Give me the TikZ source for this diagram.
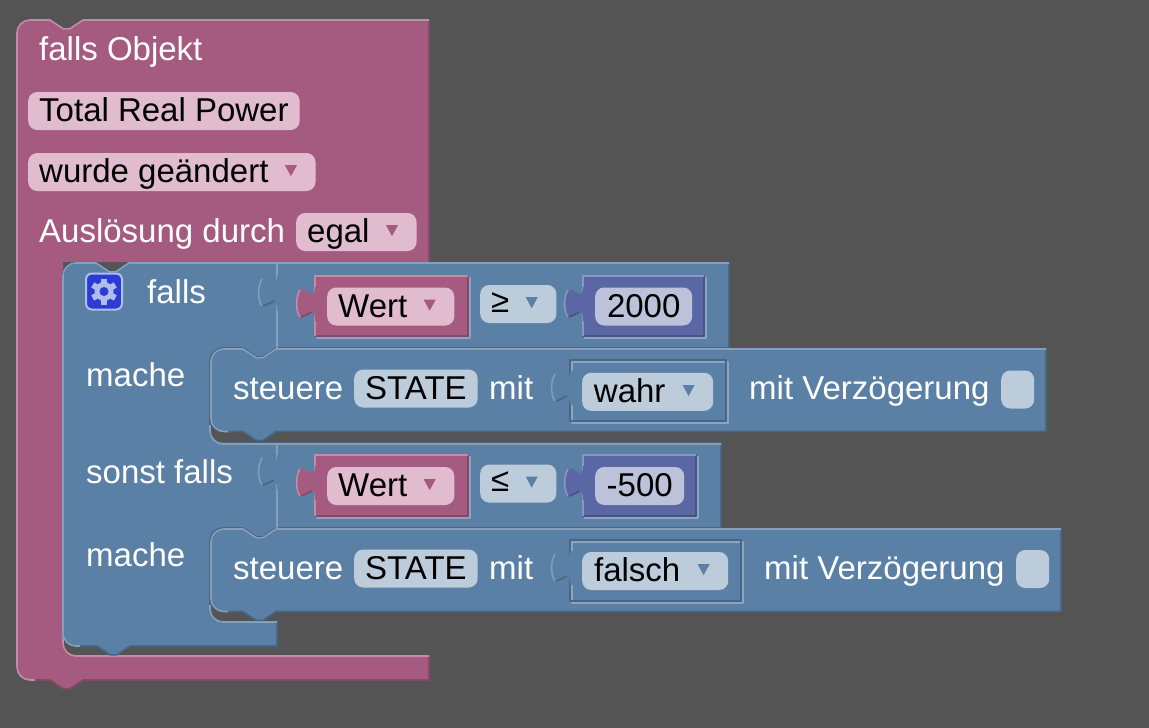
\documentclass[tikz,border=0pt]{standalone}
\usepackage{fontspec}
\setmainfont{Liberation Sans}
\definecolor{bgcol}{HTML}{545454}
\definecolor{pkfill}{HTML}{A55B80}
\definecolor{pklight}{HTML}{C08CA6}
\definecolor{pkdark}{HTML}{844966}
\definecolor{pkfld}{HTML}{E0BCCE}
\definecolor{blfill}{HTML}{5B80A5}
\definecolor{bllight}{HTML}{8CA6C0}
\definecolor{bldark}{HTML}{496684}
\definecolor{blfld}{HTML}{BDCCDB}
\definecolor{pufill}{HTML}{5B67A5}
\definecolor{pulight}{HTML}{8C95C0}
\definecolor{pudark}{HTML}{495284}
\definecolor{pufld}{HTML}{BDC2DB}
\definecolor{gearbg}{HTML}{2A3BD6}
\definecolor{gearfg}{HTML}{AFBDEB}
\newcommand{\notchR}{-- ++(13.2,8.8) -- ++(6.6,0) -- ++(13.2,-8.8)}
\newcommand{\notchL}{-- ++(-13.2,8.8) -- ++(-6.6,0) -- ++(-13.2,-8.8)}
\newcommand{\ddtri}[2]{\fill[#2] ([xshift=-30.8pt,yshift=6.8pt]#1.east) -- ++(12,0) -- ++(-6,11) -- cycle;}
\newcommand{\inset}[4]{\draw[edge,bllight] (#1+2,#2+2) rectangle (#3+2,#4+2);
\draw[edge,bldark] (#1,#2) rectangle (#3,#4);}
\newcommand{\valblock}[5]{\inset{#1}{#2}{#3}{#4}
\fill[#5fill] (#1,#2) rectangle (#3,#4);
\draw[edge,#5dark] (#1,#4) -- (#3,#4) -- (#3,#2);
\draw[edge,#5light] (#1,#4) -- (#1,#2) -- (#3,#2);}
\begin{document}
\begin{tikzpicture}
[x=1pt,y=-1pt
,edge/.style={line width=1.6pt,line join=round}
,blblock/.style={fill=blfill,draw=bldark,edge}
,pkhi/.style={edge,pklight}
,blhi/.style={edge,bllight!85!blfill}
,fld/.style={rounded corners=9pt,inner xsep=11pt,inner ysep=0pt,text height=29.5pt,text depth=8.5pt,anchor=west,text=black,font=\fontsize{33}{38}\selectfont}
,ddfld/.style={fld,execute at end node={\hspace{36pt}}}
,lbl/.style={anchor=base west,inner sep=0pt,text=white,font=\fontsize{33}{38}\selectfont}
,pics/tab/.style n args={3}{code={
\fill[#1] (0,0) .. controls (0,22.5) and (-18,-18) .. (-18,17) .. controls (-18,52) and (0,5.6) .. (0,34) -- (3,34) -- (3,0) -- cycle;
\draw[edge,#2] (-15,3) .. controls (-19.5,10) and (-19.5,24) .. (-15,30);
\draw[edge,#3] (-14,30) -- (-9,28) -- (-3,25);
}}]
\path[use as bounding box,fill=bgcol] (0,0) rectangle (1149,728);
\fill[pkfill] (17,40) [rounded corners=13pt] -- (17,20) [sharp corners] -- (50,20) \notchR -- (429,20) -- (429,262) -- (63,262) [rounded corners=13pt] -- (63,656) [sharp corners] -- (429,656) -- (429,680) -- (83,680) \notchL [rounded corners=13pt] -- (17,680) -- cycle;
\draw[edge,pkdark] (429,20) -- (429,262) (429,656) -- (429,680) -- (83,680) \notchL -- (35,680);
\draw[pkhi] (35,680) [rounded corners=13pt] -- (17,680) -- (17,20) [sharp corners] -- (50,20) \notchR -- (429,20);
\draw[pkhi] (63,635) [rounded corners=13pt] -- (63,656) [sharp corners] -- (429,656);
\path[blblock] (63,285) [rounded corners=13pt] -- (63,263) [sharp corners] -- (96,263) \notchR -- (729,263) -- (729,348) -- (276,348) \notchL [rounded corners=13pt] -- (210,348) -- (210,443) [sharp corners] -- (721,443) -- (721,528) -- (276,528) \notchL [rounded corners=13pt] -- (210,528) -- (210,622) [sharp corners] -- (277,622) -- (277,646) -- (130,646) \notchL [rounded corners=13pt] -- (63,646) -- cycle;
\draw[blhi] (80,646) [rounded corners=13pt] -- (63,646) -- (63,263) [sharp corners] -- (96,263) \notchR -- (729,263);
\draw[blhi] (210,425) [rounded corners=13pt] -- (210,444) [sharp corners] -- (721,444);
\draw[blhi] (210,605) [rounded corners=13pt] -- (210,622) [sharp corners] -- (277,622);
\draw[blhi] (277,263) -- (277,281) (277,305) -- (277,348);
\draw[blhi] (277,444) -- (277,460) (277,484) -- (277,528);
\pic at (277,276) {tab={blfill}{bllight!75!blfill}{bldark}};
\pic at (277,455) {tab={blfill}{bllight!75!blfill}{bldark}};
\path[blblock] (211,370) [rounded corners=13pt] -- (211,349) [sharp corners] -- (243,349) \notchR -- (1046,349) -- (1046,431.5) -- (276,431.5) \notchL [rounded corners=13pt] -- (211,431.5) -- cycle;
\draw[blhi] (228,431.5) [rounded corners=13pt] -- (211,431.5) -- (211,349) [sharp corners] -- (243,349) \notchR -- (1046,349);
\path[blblock] (211,550) [rounded corners=13pt] -- (211,529) [sharp corners] -- (243,529) \notchR -- (1061,529) -- (1061,611.5) -- (276,611.5) \notchL [rounded corners=13pt] -- (211,611.5) -- cycle;
\draw[blhi] (228,611.5) [rounded corners=13pt] -- (211,611.5) -- (211,529) [sharp corners] -- (243,529) \notchR -- (1061,529);
\valblock{315}{276}{468}{336}{pk}
\pic at (315,287) {tab={pkfill}{pklight}{pkdark}};
\valblock{583}{276}{704}{336}{pu}
\pic at (583,287) {tab={pufill}{pulight}{pudark}};
\valblock{315}{455}{468}{516}{pk}
\pic at (315,466) {tab={pkfill}{pklight}{pkdark}};
\valblock{583}{455}{696}{516}{pu}
\pic at (583,466) {tab={pufill}{pulight}{pudark}};
\inset{570}{360}{726}{421}
\pic at (570,371) {tab={blfill}{bllight!75!blfill}{bldark}};
\inset{570}{540}{741}{601}
\pic at (570,551) {tab={blfill}{bllight!75!blfill}{bldark}};
\node[lbl] (objekt) at (39,60) {falls Objekt};
\node[fld,fill=pkfld] (power) at (28,111) {Total Real Power};
\node[ddfld,fill=pkfld] (changed) at (28,172) {wurde geändert};
\node[lbl] (trigger) at (39,242) {Auslösung durch};
\node[ddfld,fill=pkfld] (egal) at (296,232) {egal};
\node[fill=gearbg,draw=gearfg,line width=2pt,rounded corners=6pt,minimum size=36pt,inner sep=0pt] (gear) at (104,291.5) {};
\foreach \a in {30,90,...,330}
  \draw[gearfg,line width=6pt] (gear.center) ++(\a:6) -- ++(\a:7);
\fill[gearfg] (gear.center) circle[radius=9.5pt];
\fill[gearbg] (gear.center) circle[radius=4.5pt];
\node[lbl] (falls) at (147,303) {falls};
\node[lbl] (mache1) at (86,386.7) {mache};
\node[lbl] (sonst) at (86,483.5) {sonst falls};
\node[lbl] (mache2) at (86,566.2) {mache};
\node[ddfld,fill=pkfld] (wert1) at (327,306.5) {Wert};
\node[ddfld,fill=blfld] (ge) at (480,304) {\raisebox{2.5pt}{≥}};
\node[fld,fill=pufld,minimum width=97pt] (v2000) at (595,306.5) {2000};
\node[lbl] (steuere1) at (233,399.7) {steuere};
\node[fld,fill=blfld] (state1) at (354,388.5) {STATE};
\node[lbl] (mit1) at (489,399.7) {mit};
\node[ddfld,fill=blfld,minimum width=131pt] (wahr) at (582,391.8) {wahr};
\node[lbl] (delay1) at (749,399.7) {mit Verzögerung};
\node[fld,fill=blfld,minimum width=33pt] (box1) at (1001,389.5) {};
\node[ddfld,fill=pkfld] (wert2) at (327,486) {Wert};
\node[ddfld,fill=blfld] (le) at (480,483.5) {\raisebox{2.5pt}{≤}};
\node[fld,fill=pufld,minimum width=89pt] (v500) at (595,486) {-500};
\node[lbl] (steuere2) at (233,579.3) {steuere};
\node[fld,fill=blfld] (state2) at (354,568.5) {STATE};
\node[lbl] (mit2) at (489,579.3) {mit};
\node[ddfld,fill=blfld,minimum width=146pt] (falsch) at (582,571) {falsch};
\node[lbl] (delay2) at (764,579.3) {mit Verzögerung};
\node[fld,fill=blfld,minimum width=33pt] (box2) at (1016,569) {};
\ddtri{changed}{pkfill}
\ddtri{egal}{pkfill}
\ddtri{wert1}{pkfill}
\ddtri{wert2}{pkfill}
\ddtri{ge}{blfill}
\ddtri{le}{blfill}
\ddtri{wahr}{blfill}
\ddtri{falsch}{blfill}
\end{tikzpicture}
\end{document}
